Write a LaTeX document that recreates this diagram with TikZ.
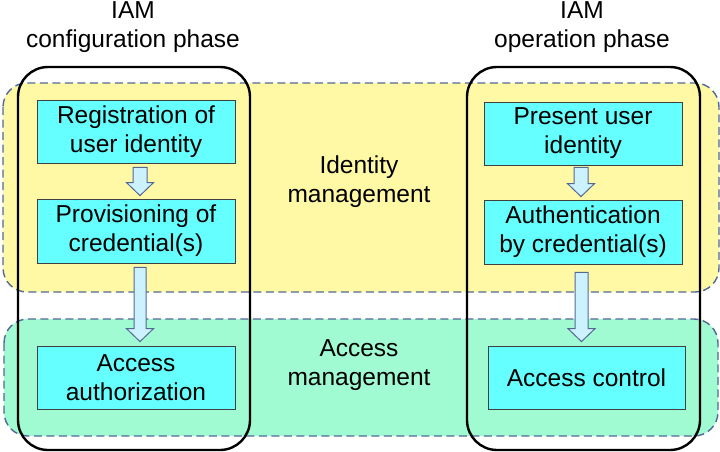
\documentclass[tikz,border=0pt]{standalone}
\usepackage{fontspec}
\setmainfont{Liberation Sans}
\usetikzlibrary{calc}
\definecolor{idyellow}{RGB}{255,249,166}
\definecolor{acgreen}{RGB}{160,250,210}
\definecolor{stepcyan}{RGB}{102,255,255}
\definecolor{arrowfill}{RGB}{204,242,255}
\definecolor{dashblue}{RGB}{84,104,148}
% block arrow pointing down from #1 to #2, shaft half width #3
\newcommand{\iamarrow}[3]{%
  \draw[blockarrow] let \p1=(#1), \p2=(#2) in
    (\x1-#3,\y1) -- (\x1+#3,\y1) -- (\x1+#3,\y2+13pt) -- (\x1+13.5pt,\y2+13pt)
    -- (\x1,\y2) -- (\x1-13.5pt,\y2+13pt) -- (\x1-#3,\y2+13pt) -- cycle;}

\begin{document}
\begin{tikzpicture}[x=1pt,y=-1pt]
    % `stage' is used for the light blue step boxes.
    % `band' is used for the dashed background areas.
    % `phaseframe' is used for the two black phase frames.
    \tikzstyle{stage} = [draw=black!75,fill=stepcyan,line width=0.8pt,minimum width=198pt,minimum height=63pt,align=center,inner sep=2pt,font=\fontsize{24.5}{29}\selectfont]
    \tikzstyle{areatext} = [align=center,inner sep=0pt,font=\fontsize{24.5}{29}\selectfont]
    \tikzstyle{band} = [draw=dashblue,line width=1.4pt,dash pattern=on 8pt off 4.5pt,rounded corners=24pt]
    \tikzstyle{phaseframe} = [draw=black,line width=2.4pt,rounded corners=30pt]
    \tikzstyle{blockarrow} = [draw=dashblue,fill=arrowfill,line width=1pt,line join=miter]
    %
    \useasboundingbox (0,0) rectangle (720,452);
    % Draw background bands.
    \draw[band,fill=idyellow] (3,83) rectangle (719,292);
    \draw[band,fill=acgreen] (4,319) rectangle (718,436);
    % Draw phase frames.
    \draw[phaseframe] (18,67) rectangle (250,450);
    \draw[phaseframe] (467,67) rectangle (700,450);
    %
    \node[stage] (reg) at (136,131.5) {Registration of\\user identity};
    \node[stage,minimum height=64pt] (prov) at (136,231) {Provisioning of\\credential(s)};
    \node[stage] (authz) at (136,377.5) {Access\\authorization};

    \node[stage] (pres) at (583,133.5) {Present user\\identity};
    \node[stage,minimum height=64pt] (authn) at (583,232) {Authentication\\by credential(s)};
    \node[stage,minimum width=197pt] (ctrl) at (586.5,377.5) {Access control};
    %
    \node[areatext] (cfg) at (133,27) {IAM\\configuration phase};
    \node[areatext] (oper) at (582,27) {IAM\\operation phase};
    \node[areatext] (idm) at (359,181.5) {Identity\\management};
    \node[areatext] (acm) at (359,365.5) {Access\\management};
    % Draw arrows.
    \coordinate (a1s) at ([xshift=4pt,yshift=-4pt]reg.south);
    \coordinate (a1e) at ([xshift=4pt,yshift=3pt]prov.north);
    \coordinate (a2s) at ([xshift=4pt,yshift=-4pt]prov.south);
    \coordinate (a2e) at ([xshift=4pt,yshift=4pt]authz.north);
    \coordinate (a3s) at ([xshift=-2pt,yshift=-2pt]pres.south);
    \coordinate (a3e) at ([xshift=-2pt,yshift=3pt]authn.north);
    \coordinate (a4s) at ([xshift=-1.5pt,yshift=-8pt]authn.south);
    \coordinate (a4e) at ([xshift=-6.5pt,yshift=4pt]ctrl.north);
    \iamarrow{a1s}{a1e}{7pt}
    \iamarrow{a2s}{a2e}{6pt}
    \iamarrow{a3s}{a3e}{7pt}
    \iamarrow{a4s}{a4e}{6.5pt}
\end{tikzpicture}
\end{document}
